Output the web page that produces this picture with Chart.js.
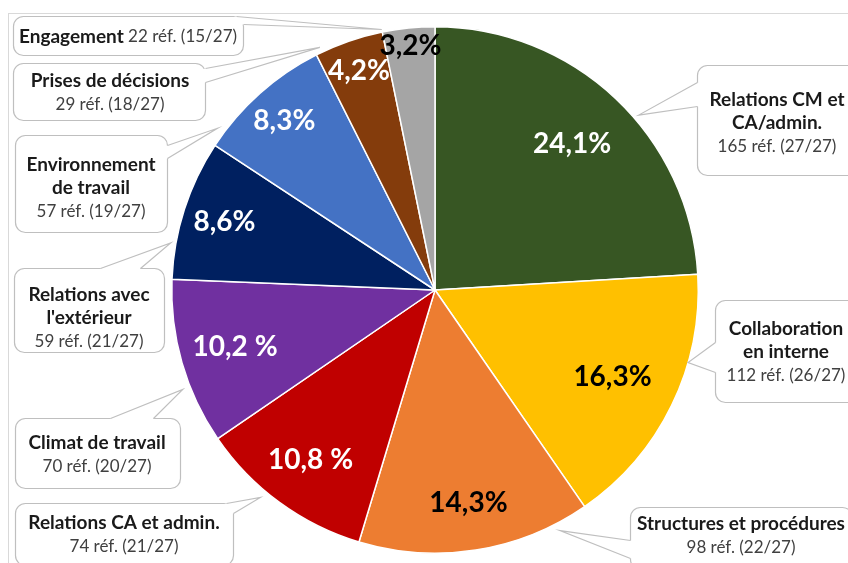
<!DOCTYPE html>
<html><head><meta charset="utf-8">
<script src="https://cdn.jsdelivr.net/npm/chart.js@4"></script>
<style>html,body{margin:0;padding:0;background:#fff;}#wrap{width:848px;height:563px;position:relative;}</style>
</head><body><div id="wrap"><canvas id="c" width="848" height="563"></canvas></div>
<script>
// ---- data ----
const categories = [
  ["Relations CM et", "CA/admin."],
  ["Collaboration", "en interne"],
  ["Structures et procédures"],
  ["Relations CA et admin."],
  ["Climat de travail"],
  ["Relations avec", "l'extérieur"],
  ["Environnement", "de travail"],
  ["Prises de décisions"],
  ["Engagement"]
];
const references = [165, 112, 98, 74, 70, 59, 57, 29, 22];
const documentsCited = [27, 26, 22, 21, 20, 21, 19, 18, 15];
const documentsTotal = 27;
const percentLabels = ["24,1%", "16,3%", "14,3%", "10,8 %", "10,2 %", "8,6%", "8,3%", "4,2%", "3,2%"];

// ---- styles ----
const sliceColors = ["#375623", "#FFC000", "#ED7D31", "#C00000", "#7030A0", "#002060", "#4472C4", "#843C0C", "#A5A5A5"];
const percentColors = ["#fff", "#000", "#000", "#fff", "#fff", "#fff", "#fff", "#fff", "#000"];
const percentRadius = [0.76, 0.75, 0.82, 0.80, 0.79, 0.84, 0.86, 0.88, 0.93];
const FONT = "Lato";

// callout layout: box [x,y,w,h], text centre [cx,cy], wedge base points, tip position within slice (t along angle, f of radius)
const callouts = [
  {box:[697,65,160,110], tc:[777,123], p1:[697,82], p2:[697,106], t:0.57, f:1.02},
  {box:[715,300,142,102], tc:[786,352], p1:[715,342], p2:[715,372], t:0.33, f:1.0},
  {box:[630,507,222,62], tc:[741,536], p1:[630,540], p2:[630,558], t:0.14, f:1.03},
  {box:[15,503,218,62], tc:[124,535], p1:[226,503], p2:[233,513], t:0.60, f:1.03},
  {box:[15,418,165,70], tc:[97,455], p1:[110,418], p2:[153,418], t:0.35, f:1.03},
  {box:[14,268,150,84], tc:[89,318], p1:[100,268], p2:[140,268], t:0.25, f:1.02},
  {box:[15,135,152,97], tc:[91,188], p1:[167,145], p2:[167,158], t:0.11, f:1.03},
  {box:[13,63,192,57], tc:[110,93], p1:[205,68], p2:[205,82], t:0.09, f:1.02},
  {box:[13,16,230,39], tc:[128,37], p1:[236,16], p2:[243,24], t:0.0, f:1.01, inline:true}
];

function rr(ctx,x,y,w,h,r){ctx.beginPath();ctx.moveTo(x+r,y);ctx.arcTo(x+w,y,x+w,y+h,r);ctx.arcTo(x+w,y+h,x,y+h,r);ctx.arcTo(x,y+h,x,y,r);ctx.arcTo(x,y,x+w,y,r);ctx.closePath();}

const framePlugin = {
  id:'frame',
  beforeDraw(chart){
    const ctx = chart.ctx; ctx.save();
    ctx.strokeStyle = '#d9d9d9'; ctx.lineWidth = 1;
    ctx.strokeRect(8.5, 13.5, 1000, 1000);
    ctx.restore();
  }
};

const labelPlugin = {
  id:'pctLabels',
  afterDatasetsDraw(chart){
    const ctx = chart.ctx; const meta = chart.getDatasetMeta(0);
    ctx.save();
    ctx.font = `bold 28px ${FONT}`; ctx.textAlign='center'; ctx.textBaseline='middle';
    meta.data.forEach((arc,i)=>{
      const p = arc.getProps(['x','y','startAngle','endAngle','outerRadius'], true);
      const a = (p.startAngle+p.endAngle)/2, r = p.outerRadius*percentRadius[i];
      ctx.fillStyle = percentColors[i];
      ctx.fillText(percentLabels[i], p.x + r*Math.cos(a), p.y + r*Math.sin(a));
    });
    ctx.restore();
  }
};

const calloutPlugin = {
  id:'callouts',
  afterDraw(chart){
    const ctx = chart.ctx; const meta = chart.getDatasetMeta(0);
    ctx.save();
    callouts.forEach((c,i)=>{
      const arc = meta.data[i];
      const p = arc.getProps(['x','y','startAngle','endAngle','outerRadius'], true);
      const a = p.startAngle + c.t*(p.endAngle-p.startAngle);
      const tip = [p.x + p.outerRadius*c.f*Math.cos(a), p.y + p.outerRadius*c.f*Math.sin(a)];
      const [bx,by,bw,bh] = c.box;
      rr(ctx,bx+0.5,by+0.5,bw,bh,10);
      ctx.fillStyle='#fff'; ctx.fill();
      ctx.strokeStyle='#bfbfbf'; ctx.lineWidth=1.2; ctx.stroke();
      // wedge
      ctx.beginPath();
      ctx.moveTo(c.p1[0]+0.5,c.p1[1]+0.5); ctx.lineTo(tip[0],tip[1]); ctx.lineTo(c.p2[0]+0.5,c.p2[1]+0.5);
      ctx.lineTo(bx+bw/2, by+bh/2); ctx.closePath();
      ctx.fillStyle='#fff'; ctx.fill();
      ctx.beginPath();
      ctx.moveTo(c.p1[0]+0.5,c.p1[1]+0.5); ctx.lineTo(tip[0],tip[1]); ctx.lineTo(c.p2[0]+0.5,c.p2[1]+0.5);
      ctx.stroke();
      // text
      const refText = `${references[i]} réf. (${documentsCited[i]}/${documentsTotal})`;
      ctx.textBaseline='middle';
      const boldFont = `bold 19px ${FONT}`, normFont = `17px ${FONT}`;
      if (c.inline){
        ctx.font = boldFont; const w1 = ctx.measureText(categories[i].join(' ')).width;
        ctx.font = normFont; const w2 = ctx.measureText(' '+refText).width;
        let x = c.tc[0]-(w1+w2)/2;
        ctx.textAlign='left';
        ctx.font = boldFont; ctx.fillStyle='#1a1a1a'; ctx.fillText(categories[i].join(' '), x, c.tc[1]);
        ctx.font = normFont; ctx.fillStyle='#404040'; ctx.fillText(' '+refText, x+w1, c.tc[1]);
      } else {
        const lines = categories[i].map(s=>({s,b:true})).concat([{s:refText,b:false}]);
        const gap = 23.5;
        const y0 = c.tc[1] - gap*(lines.length-1)/2;
        ctx.textAlign='center';
        lines.forEach((l,k)=>{
          ctx.font = l.b?boldFont:normFont; ctx.fillStyle = l.b?'#1a1a1a':'#404040';
          ctx.fillText(l.s, c.tc[0], y0+k*gap);
        });
      }
    });
    ctx.restore();
  }
};

new Chart(document.getElementById('c'), {
  type:'pie',
  data:{
    labels: categories,
    datasets:[{data: references, backgroundColor: sliceColors, borderColor:'#ffffff', borderWidth:1.5}]
  },
  options:{
    responsive:false, animation:false,
    layout:{padding:{top:26,bottom:9,left:171,right:149}},
    plugins:{legend:{display:false}, tooltip:{enabled:false}}
  },
  plugins:[framePlugin,labelPlugin,calloutPlugin]
});
</script></body></html>
